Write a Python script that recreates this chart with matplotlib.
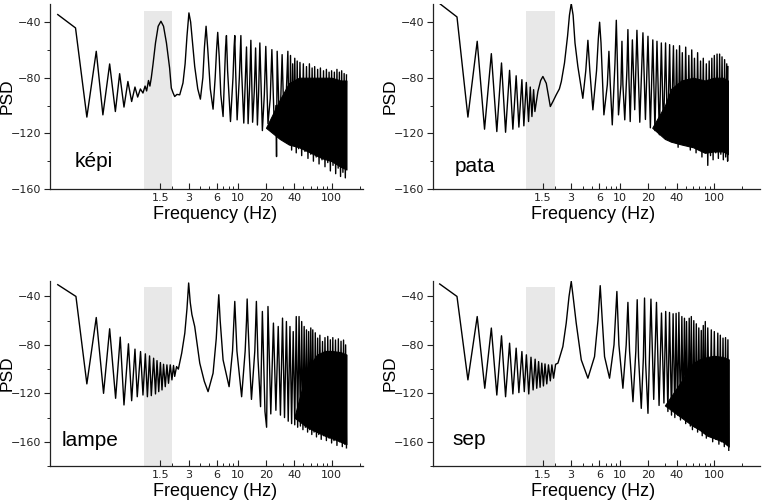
import numpy as np
import matplotlib.pyplot as plt
from matplotlib.ticker import FixedLocator, MultipleLocator, NullFormatter

plt.rcParams['font.family'] = ['Liberation Sans', 'DejaVu Sans']

# ---- data (frequency in Hz, PSD in dB) ----
words = ['képi', 'pata', 'lampe', 'sep']

# syllable-rate band (Hz) and its top level
band_freq = [1.0, 2.0]
band_top = -32

kepi_freq = [0.121, 0.187, 0.247, 0.311, 0.366, 0.432, 0.497, 0.552, 0.614, 0.676, 0.741, 0.804, 0.859, 0.918, 0.978,
             1.03, 1.07, 1.12, 1.16, 1.2, 1.25, 1.33, 1.42, 1.52, 1.62, 1.74, 1.88, 1.96, 2.05, 2.13, 2.25, 2.41, 2.61,
             2.75, 2.88, 3.02, 3.15, 3.3, 3.48, 3.75, 4.0, 4.25, 4.42, 4.6, 4.8, 5.1, 5.46, 5.75, 5.95, 6.12, 6.35, 6.6,
             6.98, 7.25, 7.42, 7.58, 7.8, 8.37, 8.9, 9.15, 9.3, 9.5, 9.85, 10.4, 10.65, 10.8, 11.0, 11.6,
             12.0, 12.4, 12.9, 13.4, 13.8, 14.4, 15.0, 15.5, 16.2, 16.7, 17.2, 18.3, 19.2, 19.9, 21.0, 22.2, 23.1,
             24.6, 25.5, 25.9, 26.3, 28.0, 29.7, 31.5, 34.2,
             35.5, 36.5, 37.5, 38.5, 39.5, 40.5, 42, 43, 44.5, 46, 48, 50, 52, 54, 56, 58, 60, 62, 64, 66, 68.5, 71,
             73.5, 76, 79, 82, 85, 88, 91, 94, 97, 100, 103.5, 107, 110.5, 114, 117.5, 121, 124.5, 128, 132, 136,
             140, 144]
kepi_psd = [-34.6, -44.2, -108.3, -61, -106.7, -70.1, -104.3, -77.1, -101.1, -82.7, -97.1, -86.7, -93.9, -88.1, -91,
            -86, -89.5, -82, -86, -80, -70.6, -55, -43, -39.4, -43, -55, -73, -87.4, -91, -93.5, -92, -92.3, -83.8,
            -70, -50, -33.4, -40, -55, -71.9, -88, -95.4, -80, -58, -43, -60, -88, -102.6, -80, -60, -47.4, -65, -92,
            -107.9, -78, -58, -49.7, -75, -111.5, -80, -58, -49.7, -75, -110.3, -80, -60, -49.7, -75, -112.6,
            -85, -57.9, -113, -85, -53.1, -112, -90, -58.6, -114, -90, -55, -118, -92, -57.5, -113, -95, -59.8,
            -118, -100, -136.7, -61, -120, -63.4, -125, -61,
            -128, -64, -132, -70, -126, -66, -134, -68, -131, -69, -136, -70, -133, -72, -138, -70, -135, -73, -140,
            -72, -137, -74, -142, -73, -139, -75, -144, -74, -141, -76, -147, -75, -143, -76, -149, -74, -145, -76,
            -151, -75, -148, -77, -152, -78]
kepi_core_freq = [20, 28, 35, 45, 60, 80, 100, 125, 144]
kepi_core_hi = [-116, -96, -84, -80, -80, -80, -80, -82, -82]
kepi_core_lo = [-116, -124, -128, -130, -134, -138, -140, -144, -146]

pata_freq = [0.119, 0.182, 0.238, 0.299, 0.358, 0.423, 0.484, 0.543, 0.600, 0.662, 0.718, 0.778, 0.832, 0.896, 0.940,
             0.998, 1.055, 1.10, 1.146, 1.194, 1.233, 1.327, 1.42, 1.50, 1.63, 1.80, 1.92, 2.08, 2.25, 2.36, 2.55,
             2.75, 2.88, 3.01, 3.15, 3.3, 3.54, 4.0, 4.3, 4.53, 4.75, 5.12, 5.6, 5.85, 6.04, 6.25, 6.71, 7.3, 7.59,
             7.85, 8.24, 8.8, 9.1, 9.35, 9.6, 10.2, 10.45, 10.7, 11.2, 11.8, 12.1, 12.4, 12.8, 13.5, 14.3, 15.1,
             16.2, 17.5, 18.6, 19.8, 21, 22.3, 23.5, 24.7, 26.2, 27.5, 29, 30.5, 32, 33.7, 35,
             37, 38.5, 40, 41.5, 43, 44.5, 46, 48, 50, 52, 54, 56, 58, 60, 62, 64.5, 67, 69.5, 72, 74.5, 77, 80, 83,
             86, 89, 92, 95, 98, 101, 104.5, 108, 111.5, 115, 118.5, 122, 126, 130, 133.5, 137, 140, 141]
pata_psd = [-26.7, -36.3, -108.3, -53.8, -117, -62.7, -118.7, -69.4, -119.2, -74.7, -117, -78.6, -115.5, -81.4, -114.6,
            -83.4, -111.5, -86.7, -107.9, -88.6, -104.3, -89.9, -82, -79.1, -84, -100.7, -97.1, -92.3, -88, -82.7, -69.4,
            -50, -35, -26.7, -35, -55, -71.9, -94.8, -75, -53.1, -75, -103.1, -75, -52, -40.1, -55, -106.7, -85, -61,
            -85, -113.9, -70, -38.7, -70, -106.7, -85, -53.8, -85, -110.3, -75, -45.4, -80, -111.5, -52.8, -103, -45.9,
            -112, -47.7, -110, -50.2, -116, -52.8, -118, -53.8, -121, -55, -120, -55, -124, -56.2, -126,
            -57, -125, -60, -130, -57, -122, -62, -128, -58, -126, -64, -132, -60, -128, -66, -134, -62, -131, -68,
            -137, -66, -133, -70, -143, -68, -136, -66, -139, -64, -134, -63, -138, -63, -135, -65, -139, -67, -137,
            -70, -140, -72]
pata_core_freq = [22, 30, 35, 45, 60, 80, 100, 125, 141]
pata_core_hi = [-116, -100, -88, -82, -80, -82, -80, -80, -82]
pata_core_lo = [-116, -124, -126, -128, -130, -134, -133, -133, -135]

lampe_freq = [0.121, 0.189, 0.247, 0.311, 0.372, 0.432, 0.50, 0.560, 0.614, 0.685, 0.741, 0.804, 0.85, 0.922, 0.978,
              1.037, 1.09, 1.15, 1.20, 1.27, 1.33, 1.38, 1.44, 1.50, 1.56, 1.62, 1.69, 1.76, 1.83, 1.91, 1.99, 2.07,
              2.13, 2.23, 2.33, 2.53, 2.73, 2.88, 3.0, 3.12, 3.25, 3.48, 3.94, 4.4, 4.83, 5.46, 5.9, 6.1, 6.28, 6.5,
              6.98, 8.09, 8.8, 9.3, 9.8, 11, 12, 12.4, 12.6, 12.9, 13.3, 14, 15.2, 15.8, 16.4, 17.5, 18.3, 19.5, 20.3,
              21, 22.5, 24, 25.5, 27, 28.5, 30, 31.5, 33, 34.5, 36, 37.5, 39, 40.5, 42, 43.5, 45, 46.5, 48, 49.5, 51,
              52.5, 54, 55.5, 57, 58.5, 60, 61.5, 63, 65, 67, 69, 71, 73, 75, 77.5, 80, 82.5, 85, 88, 91, 94, 97, 100,
              103, 106, 110, 114, 118, 122, 126, 130, 134, 138, 141, 144]
lampe_psd = [-30.3, -40, -112.2, -57.4, -120, -66.7, -124.1, -73.6, -129.6, -79.1, -126.1, -83.5, -122.8, -85.5, -121.4,
             -87.4, -122.8, -89.1, -121.9, -91, -120.5, -93, -118.6, -94.6, -117.2, -96, -114.5, -96.5, -111.7, -96.5,
             -108.9, -97, -106, -97.9, -100, -86.8, -70.3, -50, -28.9, -45, -55, -64.8, -95.1, -110, -118.6, -103.4,
             -75, -55, -38.6, -60, -92.4, -114.5, -85, -44.1, -85, -122.8, -85, -60, -42.1, -65, -90, -125, -85, -44.1,
             -90, -131, -52.4, -135, -148, -48.3, -137, -62, -134, -64.8, -138, -57.9, -140, -60.7, -143, -64.8, -145,
             -69, -146, -56.6, -148, -56.6, -147, -60.7, -150, -64.8, -148, -67.6, -152, -69, -150, -66, -154, -67.6,
             -152, -70, -156, -74.4, -154, -72, -158, -77.2, -155, -74, -159, -73, -157, -75.8, -161, -74, -159, -76,
             -163, -75, -160, -77, -164, -76, -162, -80, -165]
lampe_core_freq = [40, 55, 70, 85, 100, 125, 144]
lampe_core_hi = [-140, -100, -88, -85, -85, -86, -88]
lampe_core_lo = [-140, -148, -152, -155, -157, -160, -162]

sep_freq = [0.119, 0.182, 0.238, 0.299, 0.36, 0.423, 0.484, 0.543, 0.60, 0.662, 0.718, 0.778, 0.832, 0.896, 0.95,
            1.0, 1.06, 1.12, 1.18, 1.24, 1.29, 1.35, 1.40, 1.46, 1.52, 1.58, 1.65, 1.72, 1.80, 1.87, 1.95, 2.05,
            2.17, 2.45, 2.66, 2.85, 3.01, 3.15, 3.40, 3.85, 4.53, 5.33, 5.8, 6.13, 6.45, 6.82, 7.71, 8.6, 9.23, 9.7,
            10.7, 11.6, 12.1, 12.6, 13.7, 14.7, 15.2, 15.7, 16.8, 17.7, 18.2, 18.7, 19.8, 21.3, 22.8, 24.4, 26, 27.6,
            29.3, 30.6, 32.3, 33.6, 35.3, 36.7, 38.3, 39.5, 41, 42.3, 44, 45.5, 47, 48.5, 50, 51, 53, 54.5, 56, 57.4,
            59, 61, 63, 64.9, 67, 69, 71, 73.3, 75, 77, 79, 80.9, 83, 86, 90, 93.8, 97, 101, 105, 110, 113, 117, 121,
            125, 129, 133, 137, 141, 144]
sep_psd = [-29.7, -40, -108.9, -56.6, -115.8, -66.1, -121.4, -72.5, -122.8, -78.6, -120.5, -82.7, -119.4, -85.5, -118.6,
           -88.2, -120.5, -90.2, -117.2, -91.8, -115.8, -93.8, -115, -95.1, -113.9, -95.7, -112.2, -96.5, -109.7, -96.5,
           -107.5, -96, -95.1, -81.4, -62, -40, -27.6, -40, -62, -92.4, -107.5, -89.7, -60, -31.1, -60, -89.7, -107.5,
           -80, -35.9, -80, -115.8, -80, -44.9, -85, -126.9, -85, -42.7, -90, -132.4, -90, -41.3, -95, -136.5, -42.2,
           -125, -44.9, -130, -53.7, -128, -52.4, -135, -53.2, -138, -54.3, -140, -54, -138, -53.2, -142, -56.6, -140,
           -58, -145, -60.7, -143, -58, -147, -56.6, -150, -60, -148, -62.6, -152, -66, -150, -68.1, -155, -64, -153,
           -60.7, -157, -66, -155, -67.6, -160, -69, -158, -70.3, -162, -72, -160, -74.4, -164, -74, -162, -75.8, -167]
sep_core_freq = [30, 45, 60, 70, 85, 100, 125, 144]
sep_core_hi = [-130, -110, -95, -92, -90, -89, -90, -92]
sep_core_lo = [-130, -140, -147, -150, -155, -157, -160, -164]

xtick_vals = [1.5, 3, 6, 10, 20, 40, 100]
xtick_labels = ['1.5', '3', '6', '10', '20', '40', '100']
xminor_vals = [2, 4, 5, 7, 8, 9, 30, 50, 60, 70, 80, 90, 200]

series = [
    (kepi_freq, kepi_psd, kepi_core_freq, kepi_core_hi, kepi_core_lo),
    (pata_freq, pata_psd, pata_core_freq, pata_core_hi, pata_core_lo),
    (lampe_freq, lampe_psd, lampe_core_freq, lampe_core_hi, lampe_core_lo),
    (sep_freq, sep_psd, sep_core_freq, sep_core_hi, sep_core_lo),
]

# ---- layout (pixels of a 763x500 canvas) ----
W, H = 763, 500
boxes = [(50, 4, 363, 189), (432.6, 4, 760, 189),
         (50, 280.7, 363, 466), (432.6, 280.7, 760, 466)]
xlims = [(0.1, 216), (0.1, 310), (0.1, 216), (0.1, 310)]
ylims = [(-160, -27), (-160, -27), (-180, -27), (-180, -27)]
word_pos = [(0.183, -144), (0.17, -147.5), (0.134, -163.3), (0.164, -163)]
xlabel_x = [0.527, 0.491, 0.527, 0.491]

fig = plt.figure(figsize=(W / 100, H / 100), dpi=100)

for i, (freq, psd, cf, chi, clo) in enumerate(series):
    x0, y0, x1, y1 = boxes[i]
    ax = fig.add_axes([x0 / W, 1 - y1 / H, (x1 - x0) / W, (y1 - y0) / H])
    ax.set_xscale('log')

    # syllable band
    ax.fill_between(band_freq, -200, band_top, color='#e8e8e8', lw=0, zorder=0)
    # dense core of the high-frequency part
    ax.fill_between(cf, clo, chi, color='black', lw=0.8, zorder=2)
    ax.plot(freq, psd, color='black', lw=1.0, zorder=3)

    ax.set_xlim(*xlims[i])
    ax.set_ylim(*ylims[i])

    ax.xaxis.set_major_locator(FixedLocator(xtick_vals))
    ax.set_xticklabels(xtick_labels)
    ax.xaxis.set_minor_locator(FixedLocator(xminor_vals))
    ax.xaxis.set_minor_formatter(NullFormatter())
    ax.yaxis.set_major_locator(MultipleLocator(40))
    ax.yaxis.set_minor_locator(MultipleLocator(20))

    ax.tick_params(axis='x', which='major', direction='in', length=4, width=0.8, pad=3,
                   labelsize=8, labelfontfamily='DejaVu Sans', colors='#222222')
    ax.tick_params(axis='x', which='minor', direction='in', length=2, width=0.6)
    ax.tick_params(axis='y', which='major', direction='out', length=4, width=0.8, pad=2,
                   labelsize=8, labelfontfamily='DejaVu Sans', colors='#222222')
    ax.tick_params(axis='y', which='minor', direction='out', length=2, width=0.6)

    for side in ['top', 'right']:
        ax.spines[side].set_visible(False)
    for side in ['left', 'bottom']:
        ax.spines[side].set_linewidth(0.9)
        ax.spines[side].set_color('#222222')

    ax.set_xlabel('Frequency (Hz)', fontsize=13, labelpad=2)
    ax.xaxis.label.set_x(xlabel_x[i])
    ax.set_ylabel('PSD', fontsize=12.5)
    ax.yaxis.set_label_coords(-35 / (x1 - x0), 0.5)

    ax.text(word_pos[i][0], word_pos[i][1], words[i], fontsize=15, ha='left', va='baseline')

fig.savefig('out.png', dpi=100)
